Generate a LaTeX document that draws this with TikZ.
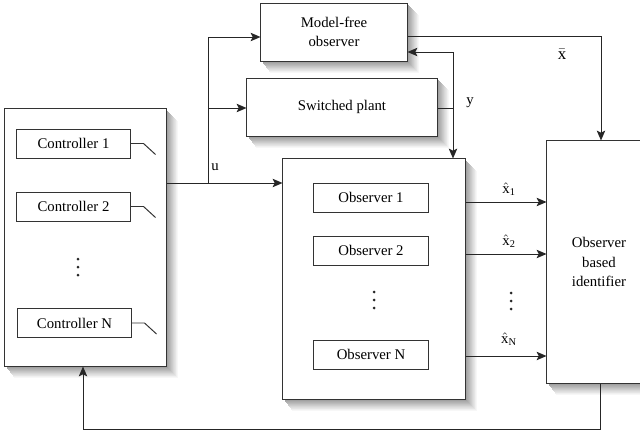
\documentclass[tikz,border=0pt]{standalone}
\usepackage{fontspec}
\setmainfont{Liberation Serif}
\usetikzlibrary{arrows.meta}

\begin{document}
\begin{tikzpicture}[
  x=0.025cm, y=-0.025cm,
  font=\fontsize{10.5}{14}\selectfont,
  line width=0.7pt,
  bank/.style={draw=black!80, fill=white},
  unit/.style={draw=black!80, fill=white, minimum width=2.85cm, minimum height=0.725cm, inner sep=0pt},
  lbl/.style={inner sep=1pt},
  arrow/.style={-{Stealth[length=7pt,width=6pt,inset=1.5pt]}, draw=black!85}
]
\useasboundingbox (0,0) rectangle (640,434);

\foreach \lx/\ty/\rx/\by in {5/109/166/366,261/3/407/61,247/78/437/136,283/159/465/399,547/141/651/383}
  \foreach \o in {12,11,...,1}{
    \pgfmathtruncatemacro\g{44-3.4*\o}
    \fill[black!\g] (\lx+0.75*\o,\ty+\o) rectangle (\rx+\o,\by+\o);
  }

\node[bank, minimum width=4.025cm, minimum height=6.425cm] (ctrl) at (85.5,237.5) {};
\node[unit, minimum width=2.825cm] (c1) at (73.5,143.5) {Controller 1};
\node[unit, minimum width=2.825cm] (c2) at (73.5,206.5) {Controller 2};
\node[unit, minimum width=2.825cm] (cN) at (74.5,323) {Controller N};

\node[bank, minimum width=3.65cm, minimum height=1.45cm, align=center] (mfo) at (334,32)
  {Model-free\\observer};
\node[bank, minimum width=4.75cm, minimum height=1.45cm] (plant) at (342,107) {Switched plant};

\node[bank, minimum width=4.55cm, minimum height=6cm] (obs) at (374,279) {};
\node[unit] (o1) at (371,197.5) {Observer 1};
\node[unit] (o2) at (371,250.5) {Observer 2};
\node[unit] (oN) at (371,354.5) {Observer N};

\node[bank, minimum width=2.6cm, minimum height=6.05cm, align=center] (ident) at (599,262)
  {Observer\\based\\identifier};

\foreach \dx/\dy in {78/267,374/300,511/301}
  \foreach \s in {-8,0,8}
    \fill[black!85] (\dx,\dy+\s) circle (1.5);

\coordinate (uj) at (208,183);
\coordinate (ut) at (208,37);
\coordinate (up) at (208,108);
\coordinate (yj) at (453,108);
\coordinate (yt) at (453,52);
\coordinate (xb) at (601,36);
\coordinate (fb) at (600,429);
\coordinate (fa) at (83,429);

\foreach \u in {c1,c2,cN}
  \draw[black!80] (\u.east) -- ++(13,0) -- ++(12,11);

\draw[black!85] (ctrl.east |- uj) -- (uj);
\draw[arrow] (uj) -- (obs.west |- uj);
\draw[arrow] (uj) |- (mfo.west |- ut);
\draw[arrow] (up) -- (plant.west |- up);
\node[lbl] (ulbl) at (215,167) {u};

\draw[black!85] (plant.east |- yj) -- (yj);
\draw[arrow] (yt) -- (mfo.east |- yt);
\draw[arrow] (yt) -- (obs.north -| yt);
\node[lbl] (ylbl) at (470,103) {y};

\draw[arrow] (mfo.east |- xb) -| (ident.north -| xb);
\node[lbl] (xblbl) at (562,54) {\large$\bar{\mathrm{x}}$};

\foreach \yy in {202,254,356}
  \draw[arrow] (obs.east |- 0,\yy) -- (ident.west |- 0,\yy);
\node[lbl] (h1) at (509,189) {$\hat{\mathrm{x}}_{\mathrm{1}}$};
\node[lbl] (h2) at (509,241) {$\hat{\mathrm{x}}_{\mathrm{2}}$};
\node[lbl] (hN) at (509,339) {$\hat{\mathrm{x}}_{\mathrm{N}}$};

\draw[arrow] (ident.south -| fb) |- (fa) -- (ctrl.south -| fa);

\end{tikzpicture}
\end{document}
